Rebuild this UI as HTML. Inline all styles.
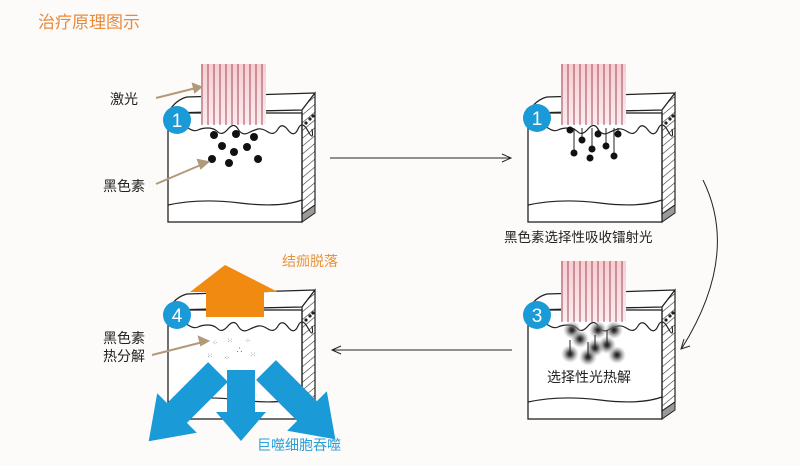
<!DOCTYPE html>
<html><head><meta charset="utf-8"><style>
html,body{margin:0;padding:0;background:#fdfbf9;}
svg{display:block;font-family:"Liberation Sans","Noto Sans CJK SC",sans-serif;}
</style></head><body>
<svg width="800" height="466" viewBox="0 0 800 466" xmlns="http://www.w3.org/2000/svg">
<defs>
<pattern id="hatch" width="6" height="6" patternUnits="userSpaceOnUse" patternTransform="rotate(-40)">
<rect width="6" height="6" fill="#fff"/><line x1="0" y1="0" x2="6" y2="0" stroke="#333" stroke-width="1.2"/>
</pattern>
<radialGradient id="glow"><stop offset="0" stop-color="#111"/><stop offset="0.3" stop-color="#555"/><stop offset="1" stop-color="#aaa" stop-opacity="0"/></radialGradient>
<linearGradient id="pink" x1="0" y1="0" x2="0" y2="1"><stop offset="0" stop-color="#f7cdd1"/><stop offset="1" stop-color="#fcecee"/></linearGradient>
<g id="block">
<path d="M168,113 Q175,100 187,97 L315,93 L315,213 L302,222 L168,222 Z" fill="#fff"/>
<path d="M168,113 Q175,100 187,97 L315,93" fill="none" stroke="#222" stroke-width="1.3"/>
<path d="M168,113 L302,110 L315,93" fill="none" stroke="#222" stroke-width="1.3"/>
<path d="M302,110 L315,93 L315,205 L302,214 Z" fill="url(#hatch)" stroke="#222" stroke-width="1.2"/>
<path d="M302,214 L315,205 L315,213 L302,222 Z" fill="#999" stroke="#222" stroke-width="1"/>
<rect x="168" y="113" width="134" height="109" fill="none" stroke="#222" stroke-width="1.3"/>
<path d="M168,128 q6,4 10,0 t10,0 t10,2 t10,-2 t10,4 t10,-3 t10,0 t10,4 t10,-4 t10,3 t10,-3 t10,1 t10,-1 t10,2 t4,-2" fill="none" stroke="#222" stroke-width="1.2"/>
<path d="M168,205 Q200,198 240,203 T302,200" fill="none" stroke="#222" stroke-width="1.2"/>
<circle cx="306" cy="123" r="1.6" fill="#222"/><circle cx="310" cy="119" r="1.6" fill="#222"/><circle cx="313" cy="116" r="1.6" fill="#222"/>
</g>
<g id="laser">
<rect x="201" y="64" width="65" height="60" fill="url(#pink)"/>
<g stroke="#a04a5a" stroke-width="1">
<line x1="202" y1="64" x2="202" y2="125"/><line x1="208" y1="64" x2="208" y2="125"/><line x1="214" y1="64" x2="214" y2="125"/><line x1="220" y1="64" x2="220" y2="125"/><line x1="226" y1="64" x2="226" y2="125"/><line x1="232" y1="64" x2="232" y2="125"/><line x1="238" y1="64" x2="238" y2="125"/><line x1="244" y1="64" x2="244" y2="125"/><line x1="250" y1="64" x2="250" y2="125"/><line x1="256" y1="64" x2="256" y2="125"/><line x1="262" y1="64" x2="262" y2="125"/>
</g>
</g>
</defs>

<text x="38" y="28" font-size="17" fill="#e88a3a">治疗原理图示</text>

<use href="#block"/>
<use href="#laser"/>
<g fill="#111">
<circle cx="214" cy="135" r="4"/><circle cx="236" cy="134" r="4"/><circle cx="254" cy="137" r="4"/>
<circle cx="222" cy="146" r="4"/><circle cx="234" cy="152" r="4"/><circle cx="247" cy="147" r="4"/>
<circle cx="212" cy="159" r="4"/><circle cx="229" cy="163" r="4"/><circle cx="258" cy="159" r="4"/>
</g>
<circle cx="177" cy="120" r="14" fill="#1a9ad6"/><text x="177" y="127" font-size="19" fill="#fff" text-anchor="middle">1</text>
<text x="110" y="104" font-size="14" fill="#222">激光</text>
<text x="103" y="191" font-size="14" fill="#222">黑色素</text>
<g stroke="#b09a7a" stroke-width="2" fill="#b09a7a">
<line x1="156" y1="98" x2="196" y2="88"/><polygon points="201,87 193,84 195,92"/>
<line x1="156" y1="184" x2="203" y2="164"/><polygon points="208,162 198,160 201,168"/>
</g>

<use href="#block" transform="translate(360,0)"/>
<use href="#laser" transform="translate(360,0)"/>
<g stroke="#222" stroke-width="1">
<line x1="574" y1="128" x2="574" y2="152"/><line x1="582" y1="128" x2="582" y2="140"/><line x1="592" y1="128" x2="592" y2="148"/><line x1="598" y1="128" x2="598" y2="135"/><line x1="606" y1="128" x2="606" y2="146"/><line x1="614" y1="128" x2="614" y2="155"/><line x1="618" y1="128" x2="618" y2="134"/>
</g>
<g fill="#111">
<circle cx="574" cy="153" r="3.5"/><circle cx="582" cy="140" r="3.5"/><circle cx="592" cy="149" r="3.5"/><circle cx="598" cy="134" r="3.5"/><circle cx="606" cy="146" r="3.5"/><circle cx="614" cy="156" r="3.5"/><circle cx="618" cy="134" r="3.5"/><circle cx="590" cy="158" r="3.5"/><circle cx="570" cy="130" r="3.5"/>
</g>
<circle cx="537" cy="118" r="14" fill="#1a9ad6"/><text x="537" y="125" font-size="19" fill="#fff" text-anchor="middle">1</text>
<text x="504" y="242" font-size="13.5" fill="#222">黑色素选择性吸收镭射光</text>

<use href="#block" transform="translate(360,197)"/>
<use href="#laser" transform="translate(360,197)"/>
<g>
<circle cx="572" cy="330" r="9" fill="url(#glow)"/><circle cx="580" cy="339" r="9" fill="url(#glow)"/><circle cx="598" cy="330" r="9" fill="url(#glow)"/><circle cx="607" cy="345" r="9" fill="url(#glow)"/><circle cx="614" cy="330" r="9" fill="url(#glow)"/><circle cx="595" cy="348" r="9" fill="url(#glow)"/><circle cx="570" cy="354" r="9" fill="url(#glow)"/><circle cx="588" cy="357" r="9" fill="url(#glow)"/><circle cx="617" cy="355" r="9" fill="url(#glow)"/>
</g>
<g stroke="#222" stroke-width="1"><line x1="570" y1="340" x2="570" y2="354"/><line x1="595" y1="335" x2="595" y2="348"/><line x1="588" y1="342" x2="588" y2="357"/><line x1="607" y1="330" x2="607" y2="345"/></g>
<circle cx="537" cy="315" r="14" fill="#1a9ad6"/><text x="537" y="322" font-size="19" fill="#fff" text-anchor="middle">3</text>
<text x="547" y="382" font-size="14" fill="#222">选择性光热解</text>

<use href="#block" transform="translate(0,197)"/>
<g fill="#555" font-size="7">
<text x="212" y="345">⁘</text><text x="227" y="343">⁙</text><text x="245" y="343">⁘</text><text x="207" y="358">⁙</text><text x="224" y="360">⁘</text><text x="250" y="357">⁙</text><text x="236" y="352">∴</text>
</g>
<polygon points="225,265 278,292 264,292 264,317 206,317 206,292 190,292" fill="#f08a10"/>
<circle cx="177" cy="315" r="14" fill="#1a9ad6"/><text x="177" y="322" font-size="19" fill="#fff" text-anchor="middle">4</text>
<text x="103" y="343" font-size="14" fill="#222">黑色素</text>
<text x="103" y="361" font-size="14" fill="#222">热分解</text>
<g stroke="#b09a7a" stroke-width="2" fill="#b09a7a"><line x1="152" y1="355" x2="203" y2="342"/><polygon points="208,341 199,337 201,345"/></g>
<text x="282" y="266" font-size="14" fill="#e8923a">结痂脱落</text>
<g fill="#1a9ad6">
<polygon points="227,370 255,370 255,412 266,412 241,441 216,412 227,412"/>
<g transform="translate(218,372) rotate(45)"><polygon points="-14,0 14,0 14,58 28,58 0,98 -28,58 -14,58"/></g>
<g transform="translate(266,370) rotate(-45)"><polygon points="-14,0 14,0 14,58 28,58 0,98 -28,58 -14,58"/></g>
</g>
<text x="257" y="450" font-size="14" fill="#2a9fd8">巨噬细胞吞噬</text>

<g stroke="#222" stroke-width="1" fill="none">
<line x1="330" y1="158" x2="510" y2="158"/><polyline points="502,154 511,158 502,162"/>
<line x1="512" y1="350" x2="333" y2="350"/><polyline points="341,346 332,350 341,354"/>
<path d="M703,180 Q740,255 682,348"/><polyline points="684,339 681,349 690,346"/>
</g>
</svg>
</body></html>
